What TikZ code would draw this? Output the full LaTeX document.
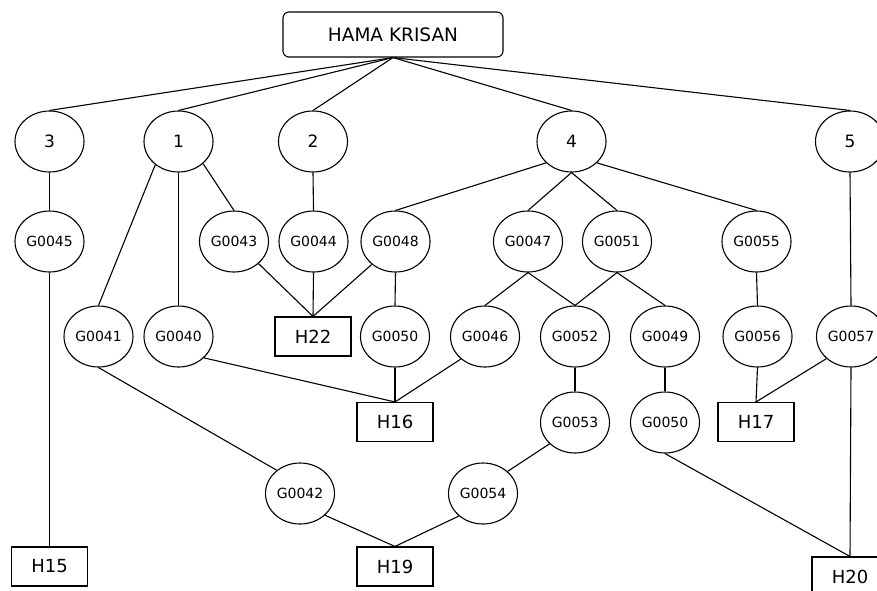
\documentclass[tikz,border=0pt]{standalone}
\usepackage{fontspec}
\setmainfont{DejaVu Sans}
\usetikzlibrary{shapes.geometric}
\begin{document}
\begin{tikzpicture}[x=1pt,y=-1pt,line width=1.1pt,
  gnode/.style={draw,ellipse,minimum width=69pt,minimum height=61pt,inner sep=0pt,font=\fontsize{14}{16}\selectfont},
  numnode/.style={draw,ellipse,minimum width=69pt,minimum height=61pt,inner sep=0pt,font=\fontsize{17}{19}\selectfont},
  hbox/.style={draw,rectangle,minimum width=76pt,minimum height=39pt,inner sep=0pt,font=\fontsize{18}{20}\selectfont},
  rootbox/.style={draw,rectangle,rounded corners=6pt,minimum width=220pt,minimum height=45pt,inner sep=0pt,font=\fontsize{18.5}{20}\selectfont}]
\useasboundingbox (0,0) rectangle (877,590);
\clip (0,0) rectangle (877,590);
\fill[white] (0,0) rectangle (877,590);
% nodes
\node[rootbox] (root) at (393,34.5) {HAMA KRISAN};
\node[numnode] (n3) at (49.5,141.5) {3};
\node[numnode] (n1) at (178.5,141.5) {1};
\node[numnode] (n2) at (313,141.5) {2};
\node[numnode] (n4) at (571.5,141.5) {4};
\node[numnode] (n5) at (850,141.5) {5};
\node[gnode] (g45) at (49.5,241.5) {G0045};
\node[gnode] (g43) at (234,241.5) {G0043};
\node[gnode] (g44) at (313.5,241.5) {G0044};
\node[gnode] (g48) at (395.5,241.5) {G0048};
\node[gnode] (g47) at (528,241.5) {G0047};
\node[gnode] (g51) at (617,241.5) {G0051};
\node[gnode] (g55) at (756.5,241.5) {G0055};
\node[gnode] (g41) at (98.5,336.5) {G0041};
\node[gnode] (g40) at (178.5,336.5) {G0040};
\node[hbox] (h22) at (313,336.5) {H22};
\node[gnode] (g50a) at (395,336.5) {G0050};
\node[gnode] (g46) at (485,336.5) {G0046};
\node[gnode] (g52) at (575,336.5) {G0052};
\node[gnode] (g49) at (665,336.5) {G0049};
\node[gnode] (g56) at (757.5,336.5) {G0056};
\node[gnode] (g57) at (851,336.5) {G0057};
\node[hbox] (h16) at (395,422) {H16};
\node[gnode] (g53) at (575,422.5) {G0053};
\node[gnode] (g50b) at (665,422.5) {G0050};
\node[hbox] (h17) at (756,422) {H17};
\node[gnode] (g42) at (300,493.5) {G0042};
\node[gnode] (g54) at (483,493.5) {G0054};
\node[hbox] (h15) at (49.5,566.5) {H15};
\node[hbox] (h19) at (395,566.5) {H19};
\node[hbox] (h20) at (850,576.5) {H20};
% edges
\draw (root.south) -- (n3.north);
\draw (root.south) -- (n1.north);
\draw (root.south) -- (n2.north);
\draw (root.south) -- (n4.north);
\draw (root.south) -- (n5.north);
\draw (n3.south) -- (g45.north);
\draw (g45.south) -- (h15.north);
\draw (n1.225) -- (g41.north);
\draw (n1.south) -- (g40.north);
\draw (n1.-42) -- (g43.north);
\draw (n2.south) -- (g44.north);
\draw (n4.220) -- (g48.north);
\draw (n4.south) -- (g47.north);
\draw (n4.south) -- (g51.north);
\draw (n4.-40) -- (g55.north);
\draw (n5.south) -- (g57.north);
\draw (g43.-42) -- (h22.north);
\draw (g44.south) -- (h22.north);
\draw (g48.-136) -- (h22.north);
\draw (g48.south) -- (g50a.north);
\draw (g47.south) -- (g46.north);
\draw (g47.south) -- (g52.north);
\draw (g51.south) -- (g52.north);
\draw (g51.south) -- (g49.north);
\draw (g55.south) -- (g56.north);
\draw (g41.south) -- (g42.135);
\draw (g40.-40) -- (h16.north);
\draw (g50a.south) -- (h16.north);
\draw (g46.-137) -- (h16.north);
\draw (g52.south) -- (g53.north);
\draw (g49.south) -- (g50b.north);
\draw (g56.south) -- (h17.north);
\draw (g57.-138) -- (h17.north);
\draw (g57.south) -- (h20.north);
\draw (g53.-140) -- (g54.42);
\draw (g42.-41) -- (h19.north);
\draw (g54.-137) -- (h19.north);
\draw (g50b.south) -- (h20.north);
\end{tikzpicture}
\end{document}
